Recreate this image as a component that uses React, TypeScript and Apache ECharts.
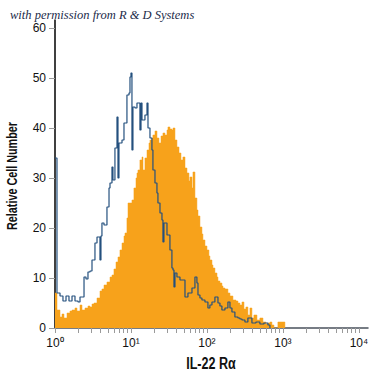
import React, { useEffect, useRef } from "react";
import * as echarts from "echarts";

// x values are log10 of fluorescence intensity (decades), y = relative cell number
const isotypeX = [0.000, 0.026, 0.066, 0.105, 0.145, 0.184, 0.224, 0.263, 0.303, 0.329, 0.382, 0.408, 0.434, 0.461, 0.487, 0.526, 0.553, 0.592, 0.605, 0.618, 0.645, 0.684, 0.711, 0.724, 0.750, 0.763, 0.789, 0.816, 0.829, 0.842, 0.882, 0.908, 0.947, 0.974, 0.987, 1.000, 1.013, 1.026, 1.053, 1.079, 1.092, 1.118, 1.132, 1.145, 1.184, 1.211, 1.224, 1.250, 1.276, 1.289, 1.316, 1.342, 1.355, 1.382, 1.408, 1.421, 1.434, 1.474, 1.513, 1.539, 1.553, 1.566, 1.579, 1.605, 1.645, 1.684, 1.711, 1.750, 1.803, 1.842, 1.868, 1.882, 1.908, 1.934, 1.974, 2.013, 2.039, 2.066, 2.105, 2.145, 2.171, 2.197, 2.237, 2.276, 2.303, 2.329, 2.368, 2.408, 2.434, 2.461, 2.500, 2.539, 2.592, 2.645, 2.697, 2.750, 2.803, 2.829];
const isotypeY = [34, 7, 6.4, 5.4, 6.4, 5.4, 6.4, 5.4, 5.2, 6.2, 10.2, 9.8, 11.2, 11.4, 13.6, 17, 18.2, 13.6, 18.4, 21, 20.6, 24.2, 28, 29, 32.2, 29.6, 36, 42.2, 30, 37, 37.6, 41, 46.6, 47, 50.2, 51, 35.6, 44.2, 44, 45, 45, 39.6, 45, 41.6, 42.6, 45, 40, 38, 35.6, 31.6, 29, 27, 25, 23, 21.6, 17.2, 21, 18.6, 15.6, 12, 11.6, 8.2, 11, 10.2, 9.6, 9.6, 6.2, 7, 8, 10.2, 9, 6.6, 6, 5.6, 5.2, 4, 4.6, 5.2, 6.2, 5, 4.4, 3.6, 4, 5.2, 4, 3.2, 2.2, 2, 1.8, 1.6, 1.2, 2, 1, 1.2, 0.8, 1, 0.6, 0];

const stainedX = [0.000, 0.026, 0.066, 0.092, 0.118, 0.158, 0.197, 0.224, 0.263, 0.289, 0.329, 0.355, 0.395, 0.434, 0.461, 0.487, 0.513, 0.553, 0.592, 0.618, 0.645, 0.684, 0.724, 0.750, 0.776, 0.803, 0.829, 0.855, 0.882, 0.908, 0.921, 0.947, 0.961, 0.987, 1.013, 1.039, 1.066, 1.079, 1.092, 1.118, 1.145, 1.158, 1.184, 1.211, 1.237, 1.250, 1.276, 1.289, 1.316, 1.342, 1.368, 1.395, 1.421, 1.447, 1.474, 1.487, 1.513, 1.539, 1.553, 1.579, 1.605, 1.632, 1.658, 1.684, 1.711, 1.737, 1.763, 1.776, 1.803, 1.816, 1.842, 1.868, 1.882, 1.908, 1.934, 1.947, 1.974, 2.000, 2.026, 2.039, 2.066, 2.079, 2.105, 2.132, 2.145, 2.171, 2.197, 2.211, 2.237, 2.276, 2.303, 2.342, 2.382, 2.408, 2.434, 2.461, 2.487, 2.513, 2.539, 2.566, 2.592, 2.618, 2.658, 2.697, 2.737, 2.776, 2.803, 2.829, 2.855, 2.882, 2.934, 3.000, 3.026];
const stainedY = [7, 3.6, 2.2, 2.8, 2, 3, 3.4, 3.6, 4, 3.4, 4.6, 3.6, 4, 4.4, 4.2, 4.8, 5, 6, 7.4, 7.8, 8.6, 9.2, 10.2, 10.6, 11.8, 13.2, 14.2, 15.6, 17, 18.4, 19, 22, 25, 25, 25.6, 28, 30, 31, 31.6, 33.6, 34.2, 31.6, 34, 35.6, 37, 37.6, 38, 38.6, 39.4, 38, 37, 38.4, 39, 38.6, 39.6, 40.2, 39.8, 39.6, 40, 37.6, 36.2, 35, 33.6, 34.2, 32, 31, 29.4, 30.2, 28, 31.2, 26, 23.6, 22.4, 20.2, 18.8, 17.6, 16.4, 15.6, 14.4, 13.6, 12.6, 12, 11, 10.2, 9.4, 9, 8.4, 8, 7.8, 7, 6.4, 5.6, 5.4, 5, 4.6, 5.2, 3.8, 4.2, 2.6, 4, 2, 2.6, 1.6, 2, 1.2, 0.8, 1, 1.2, 0.6, 0, 1.2, 1.2, 0];

const xDecades = [0, 1, 2, 3, 4];
const xTickLabels = ["10⁰", "10¹", "10²", "10³", "10⁴"];
const yTicks = [0, 10, 20, 30, 40, 50, 60];
const xAxisTitle = "IL-22 Rα";
const yAxisTitle = "Relative Cell Number";
const credit = "with permission from R & D Systems";

const sans = "'Liberation Sans', Arial, sans-serif";

export default function App() {
  const ref = useRef<HTMLDivElement>(null);
  useEffect(() => {
    if (!ref.current) return;
    const chart = echarts.init(ref.current, null, { renderer: "svg" });
    const minorTicks: number[] = [];
    for (let n = 0; n < 4; n++) {
      for (let k = 1; k < 10; k++) minorTicks.push(Math.log10(k * Math.pow(10, n)));
    }
    minorTicks.push(4);
    const stained = stainedX.map((x, i) => [x, stainedY[i]]);
    const isotype = isotypeX.map((x, i) => [x, isotypeY[i]]);
    chart.setOption({
      animation: false,
      graphic: [
        {
          type: "text",
          left: 10,
          top: 8,
          style: {
            text: credit,
            fontFamily: "'Liberation Serif', 'DejaVu Serif', serif",
            fontStyle: "italic",
            fontSize: 12.5,
            fill: "#1c2b4a",
          },
          z: 10,
        },
        {
          type: "text",
          x: 12,
          y: 176,
          rotation: Math.PI / 2,
          scaleX: 0.72,
          style: {
            text: yAxisTitle,
            fontFamily: sans,
            fontWeight: "bold",
            fontSize: 15,
            fill: "#111",
            align: "center",
            verticalAlign: "middle",
          },
        },
        {
          type: "text",
          x: 211,
          y: 363,
          scaleX: 0.74,
          style: {
            text: xAxisTitle,
            fontFamily: sans,
            fontWeight: "bold",
            fontSize: 17,
            fill: "#111",
            align: "center",
            verticalAlign: "middle",
          },
        },
      ],
      grid: { left: 55, right: 7, top: 20, bottom: 47 },
      xAxis: {
        type: "value",
        min: 0,
        max: 4.12,
        axisLine: { show: true, lineStyle: { color: "#4a525c", width: 1.5 } },
        axisTick: { show: true, customValues: minorTicks, length: 5, lineStyle: { color: "#9a9a9a", width: 1 } },
        axisLabel: {
          customValues: xDecades,
          formatter: (v: number) => xTickLabels[Math.round(v)],
          fontFamily: sans,
          fontSize: 12,
          color: "#111",
          margin: 9,
        },
        splitLine: { show: false },
      },
      yAxis: {
        type: "value",
        min: 0,
        max: 61.6,
        axisLine: { show: true, lineStyle: { color: "#000", width: 1.5 } },
        axisTick: { show: true, customValues: yTicks, length: 6, lineStyle: { color: "#9a9a9a", width: 1 } },
        axisLabel: {
          customValues: yTicks,
          fontFamily: sans,
          fontSize: 12,
          color: "#111",
          margin: 9,
        },
        splitLine: { show: false },
      },
      series: [
        {
          type: "line",
          data: stained,
          step: "end",
          showSymbol: false,
          lineStyle: { width: 0.5, color: "#f7a21b" },
          areaStyle: { color: "#f7a21b", opacity: 1 },
          z: 2,
        },
        {
          type: "line",
          data: isotype,
          step: "end",
          showSymbol: false,
          lineStyle: { width: 1.2, color: "#24507e" },
          z: 3,
        },
      ],
    });
    return () => chart.dispose();
  }, []);
  return <div ref={ref} style={{ position: "absolute", left: 0, top: 0, width: 375, height: 375 }} />;
}
